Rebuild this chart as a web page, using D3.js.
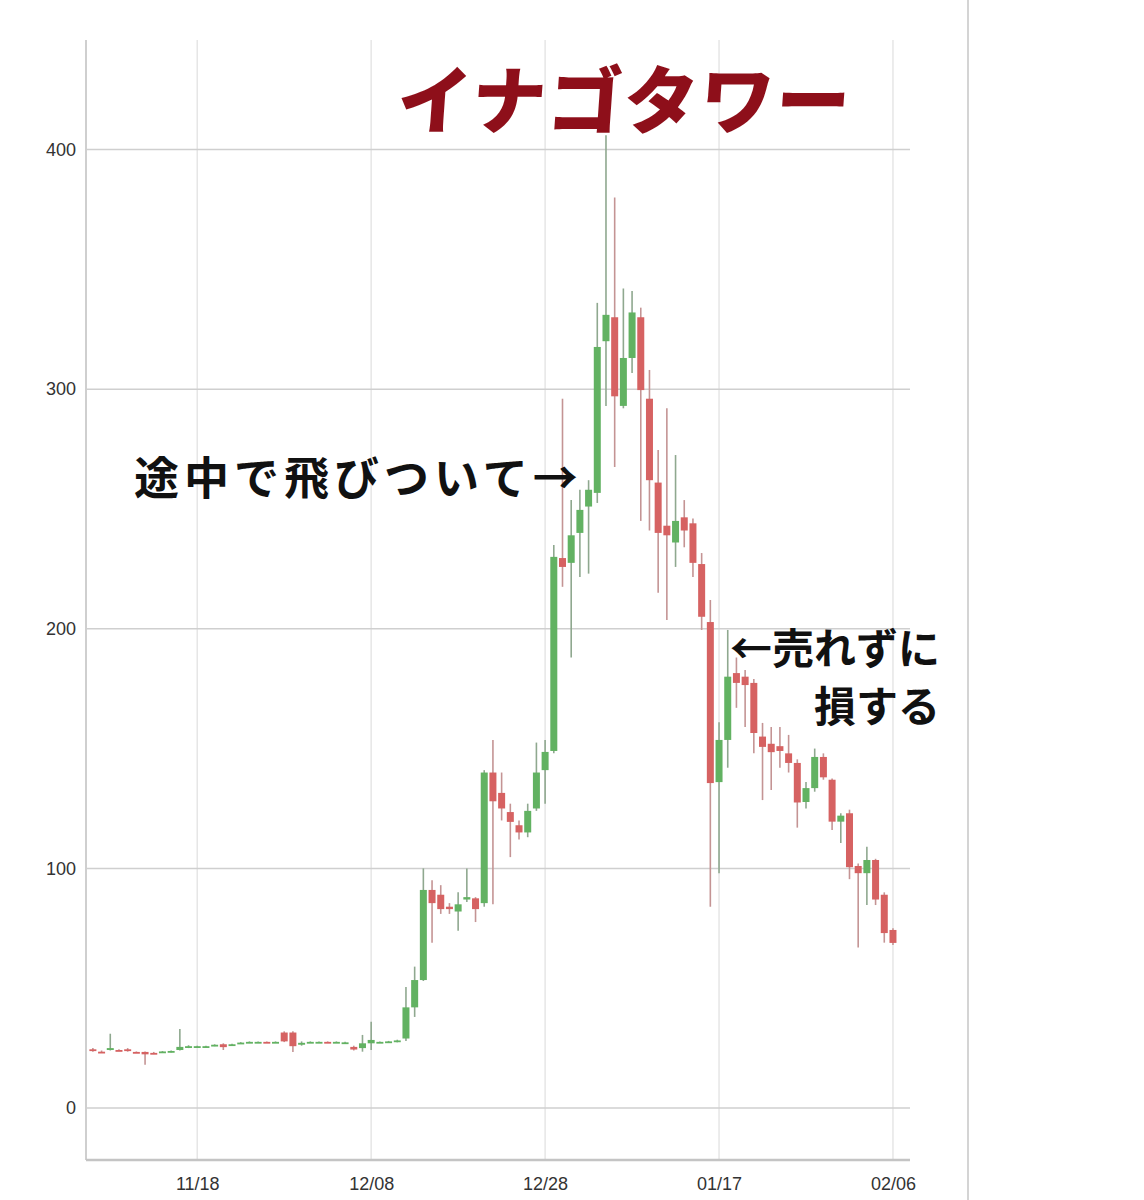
<!DOCTYPE html>
<html><head><meta charset="utf-8">
<script src="https://cdn.jsdelivr.net/npm/d3@7"></script>
<style>body{margin:0;background:#fff;}svg{display:block;}</style>
</head><body>
<svg id="c" width="1144" height="1200"></svg>
<script>
// ---- data ----
const startDate = "2017-11-06";   // first candle; one candle per calendar day
const opens  = [24.5,23.5,24.2,24.2,24.5,23.4,23.4,23,23.4,23.4,24.2,25.5,25.5,25.6,26,26.6,26.2,27,27.3,27.4,27.6,27.4,31.5,31.5,26.4,27.4,27.4,27.6,27.4,27.2,25.5,25,27,27.3,27.4,27.6,29,42,53.4,91,89,84,82,87,87.5,85.5,140,131.5,123.5,118,115,125,141,149,229.5,227.5,240,251,256.7,320,330,293,313,330,296,261,243,236,246.5,244,227,202.8,136,153.6,181.5,180,177.4,155,152,151,148,144,127.7,133.5,146.5,137,119.5,123,101,98,103.5,89,74.3];
const highs  = [25,24,31,24.5,25,23.6,23.6,23.4,23.8,24,33,26.2,26,26,26.6,27,26.8,27.5,27.8,27.8,27.8,27.8,32,32,27.8,27.8,27.8,27.8,27.8,27.6,26,30.5,36,27.8,28,28.5,50.5,59,100,95,93,85.5,90,100,88,141,153.6,140,127,120,127,152.5,153.6,235,296,253.7,258,262,336,406,380,342,341,334,308,274.6,292,272.5,253.7,246,231.6,212,161,199.5,188,182.8,179,160.7,159,159,155.7,145.5,136,150,148,137.5,123,124.5,102,109,104,90,75];
const lows   = [23.5,23,24,23.8,23.5,23,18,22.5,23.2,23.2,24,25,25.3,25.4,25.8,24.2,26,26.8,27.1,27.2,27.2,27.2,27.5,23.4,26,27.2,27.2,27.2,27.2,27,24,23.5,24.2,27.1,27.2,27.4,28,38,53,69,81,81,74,86,77.6,84,85,120,104.7,112,113,124,127,148,217.5,188,221.6,223,252.5,293,267.5,292,306.7,245,241,215,203.7,225.8,234,221.6,199.5,84,98,142,167,159,148,128.5,132.7,142,140,117,125,132,137,116,110.6,95.5,67,84.7,84.7,69,68];
const closes = [24,23.2,25,24,24,23.2,22.4,22.8,23.6,23.8,25.5,25.8,25.8,25.8,26.4,25.4,26.6,27.3,27.6,27.6,27.4,27.6,27.8,25.8,27.2,27.6,27.6,27.4,27.6,27.4,24.4,27,28.4,27.6,27.8,28.2,42,53.4,91,85.5,83,83,85,88,83,140,128,125,119.4,115,124,140,148.6,230,225.8,239,249.6,258,317.6,331,297,313,332,299.6,262,240,239,245,241,227.5,205,135.6,153.6,180,177.4,176.5,156.5,150.7,148.5,149,144,127.5,133.5,146.5,138,119.5,122,100.5,98,103.5,87,73,68.9];
const yTicks = [0, 100, 200, 300, 400];
const xTickLabels = ["11/18", "12/08", "12/28", "01/17", "02/06"];
const xTickDates  = ["2017-11-18", "2017-12-08", "2017-12-28", "2018-01-17", "2018-02-06"];
const titleText = "イナゴタワー";
const note1 = "途中で飛びついて→";
const note2a = "←売れずに";
const note2b = "損する";

// ---- build ----
const parse = d3.utcParse("%Y-%m-%d");
const d0 = parse(startDate);
const data = opens.map((o, i) => ({
  date: d3.utcDay.offset(d0, i), open: o, high: highs[i], low: lows[i], close: closes[i]
}));

const svg = d3.select("#c");
const L = 86, R = 910, T = 40, B = 1160;
const lastDate = parse("2018-02-06");
const x = d3.scaleUtc()
  .domain([d3.utcHour.offset(lastDate, -Math.round(92.8*24)), d3.utcHour.offset(lastDate, Math.round(1.95*24))])
  .range([L, R]);
const y = d3.scaleLinear().domain([-21.7, 445.7]).range([B, T]);

// right panel border
svg.append("line").attr("x1", 968).attr("x2", 968).attr("y1", 0).attr("y2", 1200)
  .attr("stroke", "#d4d4d4").attr("stroke-width", 2);

// vertical grid
const tDates = xTickDates.map(parse);
svg.append("g").selectAll("line").data(tDates).join("line")
  .attr("x1", d => x(d)).attr("x2", d => x(d)).attr("y1", T).attr("y2", B)
  .attr("stroke", "#e6e6e6").attr("stroke-width", 1.5);

// horizontal grid
svg.append("g").selectAll("line").data(yTicks).join("line")
  .attr("x1", L).attr("x2", R).attr("y1", d => y(d)).attr("y2", d => y(d))
  .attr("stroke", "#cfcfcf").attr("stroke-width", 1.5);

// y axis
const yAxis = svg.append("g").attr("transform", `translate(${L},0)`)
  .call(d3.axisLeft(y).tickValues(yTicks).tickSize(0).tickPadding(10));
yAxis.select(".domain").attr("stroke", "#cfcfcf").attr("stroke-width", 2)
  .attr("d", `M0,${T}V${B}`);
yAxis.selectAll("text").attr("font-family", "Liberation Sans, Arial, sans-serif")
  .attr("font-size", 18).attr("fill", "#333");

// x axis
const xAxis = svg.append("g").attr("transform", `translate(0,${B})`)
  .call(d3.axisBottom(x).tickValues(tDates).tickFormat((d, i) => xTickLabels[i]).tickSize(0).tickPadding(17));
xAxis.select(".domain").attr("stroke", "#c4c4c4").attr("stroke-width", 2.5)
  .attr("d", `M${L},0H${R}`);
xAxis.selectAll("text").attr("font-family", "Liberation Sans, Arial, sans-serif")
  .attr("font-size", 18).attr("fill", "#333");

// candles
const GREEN = "#62b262", RED = "#d66262";
const up = d => d.close >= d.open;
const bw = 7;
const cg = svg.append("g");
cg.selectAll("line.wick").data(data).join("line").attr("class", "wick")
  .attr("x1", d => x(d.date)).attr("x2", d => x(d.date))
  .attr("y1", d => y(d.high)).attr("y2", d => y(d.low))
  .attr("stroke", d => up(d) ? "#8fa88f" : "#c49494").attr("stroke-width", 1.6);
cg.selectAll("rect.body").data(data).join("rect").attr("class", "body")
  .attr("x", d => x(d.date) - bw / 2).attr("width", bw)
  .attr("y", d => y(Math.max(d.open, d.close)))
  .attr("height", d => Math.max(1.8, Math.abs(y(d.open) - y(d.close))))
  .attr("fill", d => up(d) ? GREEN : RED);

// title
svg.append("text").attr("x", 624).attr("y", 128).attr("text-anchor", "middle")
  .attr("font-family", "Noto Sans CJK JP").attr("font-weight", 900).attr("font-size", 74)
  .attr("fill", "#8e0f1a").attr("letter-spacing", 2).attr("transform", "skewX(-4) translate(8,0)")
  .text(titleText);

// annotations
svg.append("text").attr("x", 134).attr("y", 495)
  .attr("font-family", "Noto Sans CJK JP").attr("font-weight", 700).attr("font-size", 45)
  .attr("fill", "#111").attr("letter-spacing", 5).text(note1);
svg.append("text").attr("x", 940).attr("y", 664).attr("text-anchor", "end")
  .attr("font-family", "Noto Sans CJK JP").attr("font-weight", 700).attr("font-size", 42)
  .attr("fill", "#111").text(note2a);
svg.append("text").attr("x", 940).attr("y", 722).attr("text-anchor", "end")
  .attr("font-family", "Noto Sans CJK JP").attr("font-weight", 700).attr("font-size", 42)
  .attr("fill", "#111").text(note2b);
</script>
</body></html>
